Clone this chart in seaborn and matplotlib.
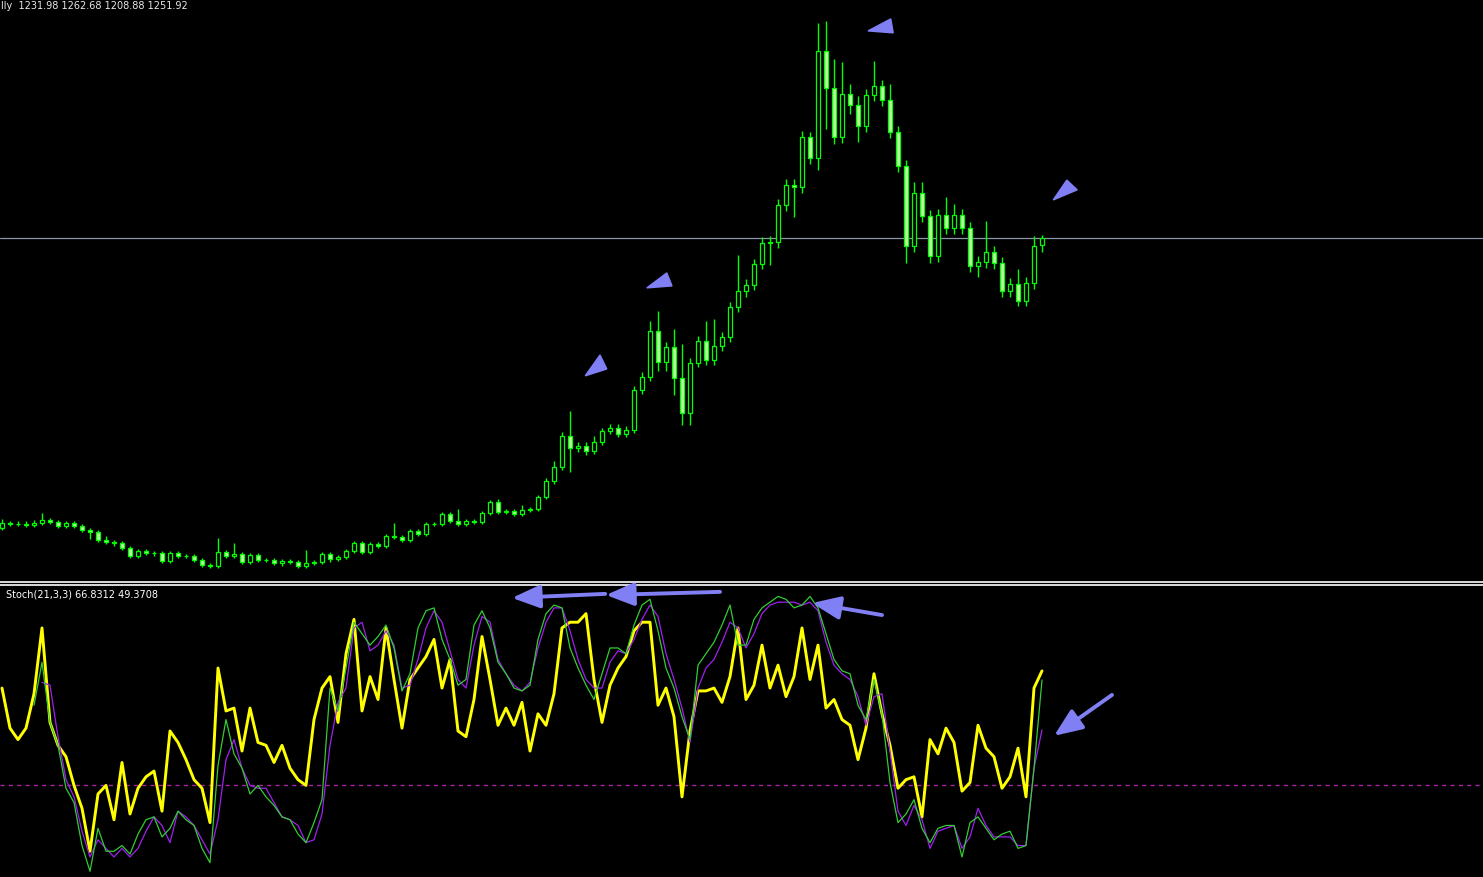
import numpy as np
import pandas as pd
import matplotlib
matplotlib.use('Agg')
import matplotlib.pyplot as plt
from matplotlib.patches import Polygon
import seaborn as sns

# --- price bars (one bar = two months) ---
open_px = [363, 378, 375, 375, 372, 378, 388, 381, 369, 378,
           369, 357, 351, 326, 320, 317, 302, 277, 292, 286,
           286, 262, 286, 277, 277, 265, 249, 246, 289, 277,
           283, 259, 280, 265, 265, 256, 262, 259, 246, 256,
           259, 283, 268, 274, 292, 317, 289, 314, 308, 338,
           335, 326, 354, 345, 375, 375, 406, 384, 375, 384,
           381, 409, 443, 412, 415, 406, 418, 421, 458, 507,
           550, 645, 609, 615, 599, 627, 661, 670, 652, 664,
           787, 826, 968, 873, 919, 823, 716, 869, 937, 879,
           922, 949, 1041, 1091, 1109, 1173, 1238, 1241, 1355, 1416,
           1410, 1563, 1499, 1827, 1714, 1563, 1695, 1662, 1597, 1692,
           1720, 1677, 1579, 1474, 1229, 1391, 1321, 1198, 1324, 1284,
           1324, 1284, 1167, 1180, 1210, 1176, 1091, 1112, 1060, 1115,
           1231.98]
high_px = [391, 385, 384, 383, 387, 409, 394, 388, 384, 384,
           375, 363, 357, 338, 326, 323, 308, 298, 298, 292,
           292, 292, 292, 283, 283, 271, 255, 332, 295, 317,
           289, 286, 286, 271, 271, 268, 268, 265, 296, 265,
           289, 289, 280, 298, 323, 323, 320, 320, 344, 378,
           341, 360, 360, 381, 381, 412, 412, 421, 390, 390,
           415, 449, 452, 421, 421, 434, 427, 464, 516, 569,
           657, 722, 627, 627, 645, 670, 682, 682, 676, 799,
           841, 998, 1029, 934, 974, 928, 884, 952, 998, 1005,
           964, 1056, 1201, 1127, 1188, 1256, 1259, 1373, 1434, 1434,
           1581, 1579, 1913, 1919, 1803, 1794, 1725, 1690, 1710, 1797,
           1738, 1726, 1597, 1492, 1425, 1425, 1339, 1342, 1379, 1358,
           1342, 1302, 1198, 1305, 1228, 1194, 1130, 1158, 1133, 1259,
           1262.68]
low_px = [357, 369, 369, 366, 366, 372, 375, 363, 363, 363,
          351, 329, 320, 314, 308, 296, 271, 271, 280, 277,
          256, 256, 271, 271, 259, 243, 240, 240, 271, 271,
          253, 253, 259, 259, 250, 246, 253, 240, 240, 250,
          253, 259, 262, 268, 286, 283, 283, 302, 302, 329,
          320, 320, 339, 339, 369, 369, 378, 369, 369, 375,
          375, 403, 406, 406, 400, 400, 412, 415, 452, 498,
          541, 535, 597, 587, 590, 618, 652, 643, 643, 655,
          775, 814, 845, 845, 771, 679, 679, 857, 864, 864,
          907, 934, 1026, 1073, 1094, 1158, 1170, 1223, 1337, 1318,
          1392, 1480, 1462, 1588, 1542, 1545, 1634, 1548, 1580, 1674,
          1660, 1561, 1456, 1177, 1211, 1303, 1177, 1180, 1266, 1266,
          1266, 1149, 1134, 1162, 1158, 1073, 1073, 1044, 1044, 1097,
          1208.88]
close_px = [378, 375, 375, 372, 378, 388, 381, 369, 378, 369,
            357, 351, 326, 320, 317, 302, 277, 292, 286, 286,
            262, 286, 277, 277, 265, 249, 246, 289, 277, 283,
            259, 280, 265, 265, 256, 262, 259, 246, 256, 259,
            283, 268, 274, 292, 317, 289, 314, 308, 338, 335,
            326, 354, 345, 375, 375, 406, 384, 375, 384, 381,
            409, 443, 412, 415, 406, 418, 421, 458, 507, 550,
            645, 609, 615, 599, 627, 661, 670, 652, 664, 787,
            826, 968, 873, 919, 823, 716, 869, 937, 879, 922,
            949, 1041, 1091, 1109, 1173, 1238, 1241, 1355, 1416, 1410,
            1563, 1499, 1827, 1714, 1563, 1695, 1662, 1597, 1692, 1720,
            1677, 1579, 1474, 1229, 1391, 1321, 1198, 1324, 1284, 1324,
            1284, 1167, 1180, 1210, 1176, 1091, 1112, 1060, 1115, 1229,
            1251.92]

# --- oscillator values (0..100) ---
nan = np.nan
stoch_fast = [64, 50, 46, 50, 62, 85, 52, 44, 40, 30,
              22, 7, 27, 30, 18, 38, 20, 29, 33, 35,
              21, 49, 45, 39, 32, 29, 17, 71, 56, 57,
              42, 57, 45, 44, 38, 44, 36, 32, 30, 53,
              64, 68, 52, 76, 88, 56, 68, 60, 85, 67,
              50, 67, 71, 75, 81, 64, 74, 49, 47, 60,
              82, 67, 51, 57, 51, 59, 42, 55, 51, 62,
              85, 87, 87, 90, 67, 52, 65, 71, 75, 84,
              87, 87, 58, 64, 54, 26, 49, 63, 63, 64,
              59, 68, 85, 60, 65, 79, 64, 72, 61, 68,
              85, 67, 79, 57, 60, 53, 51, 39, 50, 69,
              55, 44, 29, 32, 33, 19, 46, 41, 50, 45,
              28, 31, 51, 43, 40, 29, 33, 43, 26, 64,
              70]
stoch_main = [nan, nan, nan, nan, 58, 73, 52, 44, 29, 24,
              9, 0, 15, 7, 7, 9, 6, 13, 18, 19,
              12, 15, 21, 18, 16, 8, 3, 37, 53, 41,
              36, 27, 30, 26, 23, 19, 18, 13, 10, 17,
              25, 64, 56, 71, 87, 83, 79, 82, 86, 78,
              63, 69, 85, 91, 92, 81, 74, 65, 67, 86,
              91, 85, 73, 69, 64, 63, 65, 81, 90, 93,
              92, 78, 71, 65, 60, 69, 78, 78, 76, 86,
              93, 95, 84, 71, 64, 54, 46, 72, 76, 80,
              86, 93, 79, 79, 88, 92, 94, 96, 95, 92,
              93, 96, 92, 83, 74, 70, 69, 58, 53, 67,
              55, 31, 17, 20, 25, 15, 10, 15, 16, 16,
              5, 17, 19, 15, 11, 13, 14, 8, 9, 36,
              66.8312]
stoch_signal = [nan, nan, nan, nan, nan, 66, 65, 47, 32, 26,
                14, 5, 11, 8, 5, 8, 5, 8, 14, 19,
                16, 10, 21, 19, 16, 11, 6, 18, 39, 46,
                36, 30, 29, 29, 24, 19, 18, 16, 10, 11,
                20, 44, 59, 64, 85, 87, 77, 79, 84, 79,
                64, 65, 74, 85, 91, 87, 77, 67, 64, 79,
                89, 87, 74, 69, 65, 63, 66, 78, 87, 92,
                92, 84, 74, 67, 64, 64, 73, 77, 76, 81,
                88, 93, 89, 76, 67, 57, 45, 64, 71, 74,
                80, 87, 85, 78, 83, 90, 93, 94, 94, 94,
                93, 94, 91, 80, 72, 69, 67, 61, 51, 61,
                62, 42, 21, 16, 23, 18, 8, 14, 15, 16,
                8, 12, 22, 16, 12, 12, 12, 9, 9, 36,
                49.3708]
stoch_level = 30
header_text = "lly  1231.98 1262.68 1208.88 1251.92"
stoch_text = "Stoch(21,3,3) 66.8312 49.3708"

bars = np.arange(len(close_px))
o = np.array(open_px); c = np.array(close_px)
h = np.array(high_px); l = np.array(low_px)

sns.set_theme(style='dark', rc={'axes.facecolor': 'black', 'figure.facecolor': 'black',
                                'axes.grid': False})
plt.rcParams['font.family'] = ['Liberation Sans Narrow', 'DejaVu Sans']

W, H = 1483, 878
fig = plt.figure(figsize=(W / 100, H / 100), dpi=100)
ax1 = fig.add_axes([0, 295 / H, 1, 583 / H])
ax2 = fig.add_axes([0, 0, 1, 292 / H])

lime = '#00ff00'
arrow_col = '#8080f4'

# candles
ax1.vlines(bars, l, h, color=lime, lw=1.0, zorder=2)
bull = c >= o
body_face = np.where(bull, 'black', '#b8ff9c')
ax1.bar(bars, c - o, bottom=o, width=0.55, color=body_face, edgecolor=lime,
        linewidth=0.9, zorder=3)
ax1.axhline(close_px[-1], color='#8896aa', lw=0.9, zorder=1)

for tri in ([(72.9, 830), (74.75, 894), (75.6, 851)],
            [(80.6, 1100), (83.1, 1146), (83.75, 1106)],
            [(108.25, 1889), (111.1, 1926), (111.4, 1883)],
            [(131.4, 1370), (133.1, 1431), (134.4, 1401)]):
    ax1.add_patch(Polygon(tri, closed=True, color=arrow_col, zorder=5))

ax1.set_xlim(-0.25, -0.25 + W / 8)
ax1.set_ylim(197, 1987)

# oscillator
df = pd.DataFrame({'bar': bars, 'fast': stoch_fast, 'main': stoch_main,
                   'signal': stoch_signal})
ax2.axhline(stoch_level, color='#a424a4', lw=1.0, ls=(0, (3, 3)), zorder=1)
sns.lineplot(data=df, x='bar', y='fast', ax=ax2, color='#ffff00', lw=2.1, zorder=3)
sns.lineplot(data=df, x='bar', y='signal', ax=ax2, color='#a020f0', lw=0.9, zorder=4)
sns.lineplot(data=df, x='bar', y='main', ax=ax2, color='#33cc33', lw=0.9, zorder=4)

for tail, tip in (((75.4, 96.9), (63.75, 95.5)),
                  ((89.75, 97.6), (75.5, 96.5)),
                  ((110.0, 89.5), (101.25, 93.7)),
                  ((138.75, 61.6), (131.5, 47.3))):
    ax2.annotate('', xy=tip, xytext=tail, zorder=6,
                 arrowprops=dict(arrowstyle='-|>,head_length=0.85,head_width=0.35',
                                 mutation_scale=20, lw=2.8, color=arrow_col,
                                 shrinkA=0, shrinkB=0, capstyle='round'))

ax2.set_xlim(-0.25, -0.25 + W / 8)
ax2.set_ylim(-2, 100)

for ax in (ax1, ax2):
    ax.set_xticks([]); ax.set_yticks([])
    ax.set_xlabel(''); ax.set_ylabel('')
    for s in ax.spines.values():
        s.set_visible(False)
ax1.spines['bottom'].set_visible(True)
ax1.spines['bottom'].set_color('white')
ax1.spines['bottom'].set_linewidth(1.2)
ax2.spines['top'].set_visible(True)
ax2.spines['top'].set_color('white')
ax2.spines['top'].set_linewidth(1.2)

fig.text(1 / W, 1 - 9 / H, header_text, color='#e8e8e8', fontsize=7, va='baseline')
fig.text(6 / W, 1 - 598 / H, stoch_text, color='white', fontsize=7, va='baseline')

fig.savefig('out.png', dpi=100, facecolor='black')
